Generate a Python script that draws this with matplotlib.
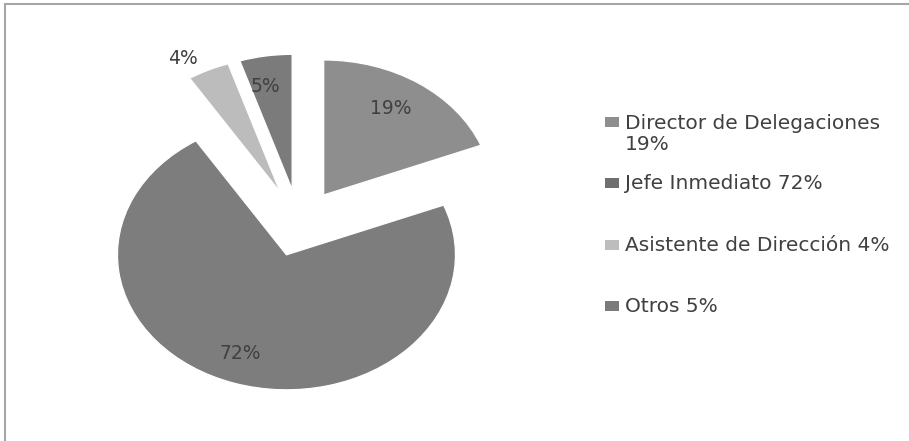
import matplotlib.pyplot as plt
import numpy as np
from matplotlib.patches import Rectangle

plt.rcParams['font.family'] = ['DejaVu Sans']

# datos
categorias = ['Director de Delegaciones\n19%', 'Jefe Inmediato 72%',
              'Asistente de Dirección 4%', 'Otros 5%']
porcentajes = [19, 72, 4, 5]
colores = ['#8e8e8e', '#7d7d7d', '#bcbcbc', '#7b7b7b']
colores_leyenda = ['#8e8e8e', '#6f6f6f', '#bdbdbd', '#7a7a7a']
separacion = [0.26, 0.24, 0.26, 0.26]

W, H = 909, 441
fig = plt.figure(figsize=(W / 100, H / 100), dpi=100)
ax = fig.add_axes([0, 0, 1, 1])

# centro y radios de la torta en pixeles (queda algo achatada)
cx, cy, rx, ry = 299, 224, 169, 135

wedges, texts, autotexts = ax.pie(
    porcentajes, colors=colores, explode=separacion, startangle=90,
    counterclock=False, autopct=lambda p: '%d%%' % round(p), pctdistance=0.77,
    wedgeprops=dict(edgecolor='white', linewidth=0.9),
    textprops=dict(color='#404040', fontsize=13.5))
ax.set_aspect('auto')
ax.set_xlim(-cx / rx, (W - cx) / rx)
ax.set_ylim((cy - H) / ry, cy / ry)
ax.axis('off')

# corrimiento leve de las etiquetas hacia la izquierda
for t in autotexts:
    x, y = t.get_position()
    t.set_position((x - 0.035, y))

# la etiqueta del 4% va afuera de la porcion
w = wedges[2]
mid = np.deg2rad((w.theta1 + w.theta2) / 2 + 5)
autotexts[2].set_position((w.center[0] + 1.15 * np.cos(mid),
                           w.center[1] + 1.15 * np.sin(mid)))

# leyenda (y = centro de la primera linea, en pixeles)
leg_y = [122, 183, 245, 306]
for col, lab, y in zip(colores_leyenda, categorias, leg_y):
    fig.patches.append(Rectangle((605 / W, 1 - (y + 5) / H), 14 / W, 10 / H,
                                 transform=fig.transFigure, facecolor=col,
                                 edgecolor='none'))
    # con varias lineas, 'baseline' toma la ultima
    base = y + 6 + 22 * lab.count('\n')
    fig.text(625 / W, 1 - base / H, lab, va='baseline', ha='left',
             fontsize=14.5, color='#404040', linespacing=1.1)

# marco
fig.patches.append(Rectangle((5 / W, -0.1), 1.2, 1 - 4 / H + 0.1,
                             transform=fig.transFigure, fill=False,
                             edgecolor='#a6a6a6', linewidth=1.5))

fig.savefig('out.png', dpi=100)
